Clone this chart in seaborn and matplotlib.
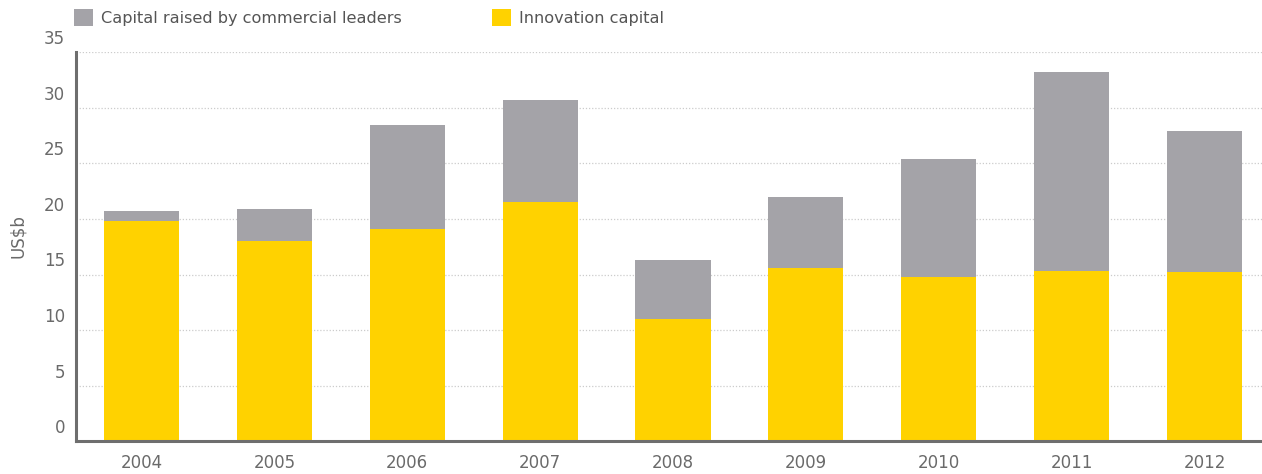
import matplotlib
matplotlib.use("Agg")
import matplotlib.pyplot as plt
import matplotlib.transforms as mtransforms
from matplotlib.patches import Patch
import seaborn as sns
import pandas as pd

# Venture capital raised per year (US$b)
years = ["2004", "2005", "2006", "2007", "2008", "2009", "2010", "2011", "2012"]
innovation_capital = [19.8, 18.0, 19.1, 21.5, 11.0, 15.6, 14.8, 15.3, 15.2]
commercial_leaders = [0.9, 2.9, 9.4, 9.2, 5.3, 6.4, 10.6, 17.9, 12.7]
y_ticks = [0, 5, 10, 15, 20, 25, 30, 35]

YELLOW = "#FFD200"
GREY = "#A4A3A8"
AXIS = "#6E6E6E"
TEXT = "#6A6A6A"

sns.set_theme(style="white")
plt.rcParams["font.family"] = ["DejaVu Sans"]

df = pd.DataFrame({
    "year": years,
    "innovation": innovation_capital,
    "commercial": commercial_leaders,
})
df["total"] = df["innovation"] + df["commercial"]

W, H, DPI = 1262, 474, 100
fig = plt.figure(figsize=(W / DPI, H / DPI), dpi=DPI)
ax = fig.add_axes([76 / W, (H - 441.3) / H, (W - 76) / W, (441.3 - 52.3) / H])

# Stacked bars: full height in grey, innovation share in yellow on top
sns.barplot(data=df, x="year", y="total", color=GREY, width=0.565,
            saturation=1, ax=ax, zorder=3)
sns.barplot(data=df, x="year", y="innovation", color=YELLOW, width=0.565,
            saturation=1, ax=ax, zorder=4)
for p in ax.patches:
    p.set_edgecolor("none")
    p.set_linewidth(0)

ax.set_ylim(0, 35)
ax.set_xlim(-0.493, 8.433)
ax.set_yticks(y_ticks)
ax.set_yticklabels([str(t) for t in y_ticks])
ax.set_xlabel("")
ax.set_ylabel("")

ax.yaxis.grid(True, linestyle=(0, (1, 1.5)), color="#CCCCCC", linewidth=0.9, zorder=0)
ax.xaxis.grid(False)
ax.set_axisbelow(True)

for side in ("top", "right"):
    ax.spines[side].set_visible(False)
for side in ("left", "bottom"):
    ax.spines[side].set_color(AXIS)
    ax.spines[side].set_linewidth(2.2)
    ax.spines[side].set_zorder(5)

ax.tick_params(axis="both", length=0, labelsize=12, labelcolor=TEXT)
ax.tick_params(axis="y", pad=8)
ax.tick_params(axis="x", pad=9)

# y tick labels sit just above their gridlines
offset = mtransforms.ScaledTranslation(0, 3 / 72, fig.dpi_scale_trans)
for lab in ax.get_yticklabels():
    lab.set_verticalalignment("bottom")
    lab.set_transform(lab.get_transform() + offset)

fig.text(18 / W, 1 - 236 / H, "US$b", rotation=90, ha="center", va="center",
         fontsize=12, color=TEXT)

handles = [Patch(facecolor=GREY, edgecolor="none"),
           Patch(facecolor=YELLOW, edgecolor="none")]
fig.legend(handles, ["Capital raised by commercial leaders", "Innovation capital"],
           loc="upper left", bbox_to_anchor=(74 / W, 1 - 9 / H), ncol=2,
           frameon=False, fontsize=11.6, labelcolor="#555555",
           handlelength=1.2, handleheight=1.2, handletextpad=0.5,
           columnspacing=5.55, borderpad=0, borderaxespad=0)

fig.savefig("out.png", dpi=DPI)
